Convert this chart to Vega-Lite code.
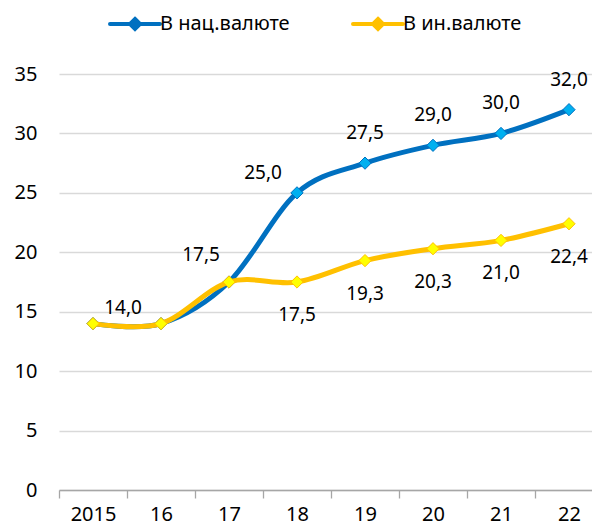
{
  "$schema": "https://vega.github.io/schema/vega-lite/v6.json",
  "autosize": {"type": "none"},
  "width": 533,
  "height": 416,
  "padding": {"left": 59, "top": 74, "right": 0, "bottom": 39},
  "config": {
    "view": {"stroke": null},
    "font": "Noto Sans",
    "locale": {"number": {"decimal": ",", "thousands": " ", "grouping": [3], "currency": ["", ""]}}
  },
  "data": {
    "values": [
      {"year": "2015", "series": "В нац.валюте", "value": 14.0},
      {"year": "16", "series": "В нац.валюте", "value": 14.0},
      {"year": "17", "series": "В нац.валюте", "value": 17.5},
      {"year": "18", "series": "В нац.валюте", "value": 25.0},
      {"year": "19", "series": "В нац.валюте", "value": 27.5},
      {"year": "20", "series": "В нац.валюте", "value": 29.0},
      {"year": "21", "series": "В нац.валюте", "value": 30.0},
      {"year": "22", "series": "В нац.валюте", "value": 32.0},
      {"year": "2015", "series": "В ин.валюте", "value": 14.0},
      {"year": "16", "series": "В ин.валюте", "value": 14.0},
      {"year": "17", "series": "В ин.валюте", "value": 17.5},
      {"year": "18", "series": "В ин.валюте", "value": 17.5},
      {"year": "19", "series": "В ин.валюте", "value": 19.3},
      {"year": "20", "series": "В ин.валюте", "value": 20.3},
      {"year": "21", "series": "В ин.валюте", "value": 21.0},
      {"year": "22", "series": "В ин.валюте", "value": 22.4}
    ]
  },
  "encoding": {
    "x": {
      "field": "year", "type": "nominal", "sort": null,
      "scale": {"type": "band", "paddingInner": 0, "paddingOuter": 0, "range": [0, 544]},
      "axis": {
        "title": null, "labelAngle": 0, "grid": false,
        "domainColor": "#A6A6A6", "domainWidth": 1.3,
        "tickColor": "#A6A6A6", "tickWidth": 1.3, "tickSize": 8, "tickBand": "extent",
        "labelPadding": 6, "labelFontSize": 20, "labelColor": "#000", "labelFont": "Noto Sans"
      }
    },
    "y": {
      "field": "value", "type": "quantitative",
      "scale": {"domain": [0, 35], "nice": false},
      "axis": {
        "title": null, "values": [0, 5, 10, 15, 20, 25, 30, 35],
        "domain": false, "ticks": false,
        "gridColor": "#D9D9D9", "gridWidth": 1.5,
        "labelPadding": 22, "labelFontSize": 20, "labelColor": "#000", "labelFont": "Noto Sans"
      }
    }
  },
  "layer": [
    {
      "transform": [{"filter": "datum.series === 'В нац.валюте'"}],
      "mark": {"type": "line", "interpolate": "cardinal", "strokeWidth": 5, "strokeCap": "round"},
      "encoding": {
        "color": {
          "field": "series", "type": "nominal",
          "scale": {"domain": ["В нац.валюте", "В ин.валюте"], "range": ["#0070C0", "#FFC000"]},
          "legend": {
            "title": null, "orient": "none", "legendX": 49, "legendY": -62,
            "direction": "horizontal", "padding": 0,
            "symbolType": "M-1,0L4,0M1.5,-0.5L2,0L1.5,0.5L1,0Z",
            "symbolSize": 400, "symbolStrokeWidth": 4,
            "labelOffset": 28, "columnPadding": 55,
            "labelFontSize": 20, "labelColor": "#000", "labelFont": "Noto Sans", "labelLimit": 300,
            "encode": {
              "symbols": {
                "update": {
                  "fill": {"signal": "datum.value === 'В нац.валюте' ? '#00B0F0' : '#FFFF00'"},
                  "opacity": {"value": 1},
                  "strokeCap": {"value": "round"}
                }
              }
            }
          }
        }
      }
    },
    {
      "transform": [{"filter": "datum.series === 'В нац.валюте'"}],
      "mark": {"type": "point", "shape": "diamond", "filled": true, "size": 150, "fill": "#00B0F0", "stroke": "#0070C0", "strokeWidth": 1, "opacity": 1}
    },
    {
      "transform": [{"filter": "datum.series === 'В ин.валюте'"}],
      "mark": {"type": "line", "interpolate": "cardinal", "strokeWidth": 5, "strokeCap": "round"},
      "encoding": {
        "color": {"field": "series", "type": "nominal"}
      }
    },
    {
      "transform": [{"filter": "datum.series === 'В ин.валюте'"}],
      "mark": {"type": "point", "shape": "diamond", "filled": true, "size": 150, "fill": "#FFFF00", "stroke": "#FFC000", "strokeWidth": 1, "opacity": 1}
    },
    {
      "transform": [{"filter": "datum.series === 'В нац.валюте' && indexof(['19','20','21','22'], datum.year) >= 0"}],
      "mark": {"type": "text", "fontSize": 19, "color": "#000", "dy": -30, "font": "Noto Sans"},
      "encoding": {"text": {"field": "value", "type": "quantitative", "format": ".1f"}}
    },
    {
      "transform": [{"filter": "datum.series === 'В нац.валюте' && datum.year === '18'"}],
      "mark": {"type": "text", "fontSize": 19, "color": "#000", "dx": -34, "dy": -20, "font": "Noto Sans"},
      "encoding": {"text": {"field": "value", "type": "quantitative", "format": ".1f"}}
    },
    {
      "transform": [{"filter": "datum.series === 'В нац.валюте' && datum.year === '17'"}],
      "mark": {"type": "text", "fontSize": 19, "color": "#000", "dx": -28, "dy": -27, "font": "Noto Sans"},
      "encoding": {"text": {"field": "value", "type": "quantitative", "format": ".1f"}}
    },
    {
      "transform": [{"filter": "datum.series === 'В нац.валюте' && datum.year === '2015'"}],
      "mark": {"type": "text", "fontSize": 19, "color": "#000", "dx": 30, "dy": -16, "font": "Noto Sans"},
      "encoding": {"text": {"field": "value", "type": "quantitative", "format": ".1f"}}
    },
    {
      "transform": [{"filter": "datum.series === 'В ин.валюте' && indexof(['18','19','20','21','22'], datum.year) >= 0"}],
      "mark": {"type": "text", "fontSize": 19, "color": "#000", "dy": 33, "font": "Noto Sans"},
      "encoding": {"text": {"field": "value", "type": "quantitative", "format": ".1f"}}
    }
  ]
}
